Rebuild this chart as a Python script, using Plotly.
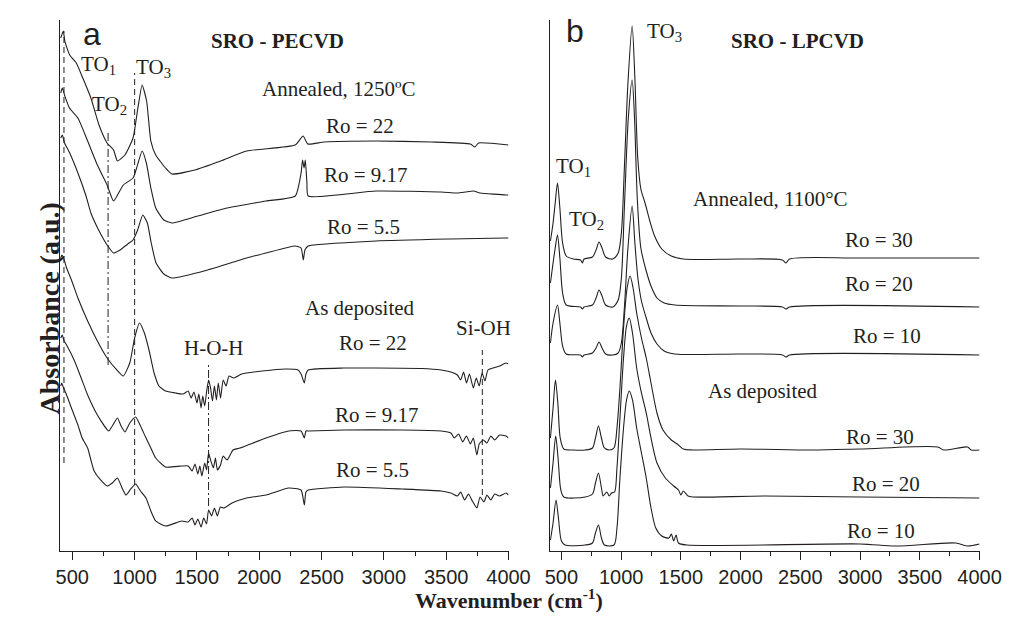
import plotly.graph_objects as go

# ---------------- Panel a : SRO - PECVD ----------------
pe_ann22_wn = [408, 429, 441, 480, 533, 585, 650, 715, 780, 832, 863, 923, 988, 1027, 1061, 1097, 1131, 1170, 1249, 1300,
               1483, 1690, 1899, 2289, 2352, 2391, 2523, 2937, 3382, 3694, 3730, 3760, 4000]
pe_ann22_abs = [5.13, 5.20, 5.10, 4.96, 4.88, 4.73, 4.53, 4.26, 4.08, 4.01, 3.90, 3.96, 4.13, 4.43, 4.66, 4.50, 4.10, 3.96, 3.83, 3.77,
                3.81, 3.90, 4.00, 4.06, 4.15, 4.07, 4.09, 4.10, 4.09, 4.07, 4.04, 4.08, 4.06]

pe_ann917_wn = [408, 421, 441, 478, 546, 624, 702, 780, 832, 910, 988, 1017, 1061, 1095, 1131, 1170, 1235, 1300, 1508, 1743,
                2055, 2289, 2336, 2348, 2360, 2370, 2383, 2393, 2937, 3460, 3590, 3655, 3718, 3772, 3980, 4000]
pe_ann917_abs = [4.58, 4.63, 4.55, 4.43, 4.33, 4.10, 3.86, 3.66, 3.50, 3.66, 3.73, 3.83, 4.00, 3.88, 3.63, 3.43, 3.31, 3.28, 3.35, 3.43,
                 3.50, 3.55, 3.78, 3.91, 3.83, 3.91, 3.68, 3.55, 3.60, 3.59, 3.58, 3.59, 3.60, 3.58, 3.56, 3.56]

pe_ann55_wn = [408, 421, 439, 480, 546, 611, 650, 712, 780, 832, 884, 946, 988, 1025, 1066, 1103, 1134, 1173, 1235, 1300,
               1587, 1899, 2055, 2289, 2336, 2354, 2367, 2393, 2937, 3538, 3980, 4000]
pe_ann55_abs = [4.13, 4.16, 4.08, 3.98, 3.78, 3.55, 3.38, 3.21, 3.06, 2.98, 3.01, 3.07, 3.11, 3.21, 3.36, 3.28, 3.08, 2.88, 2.77, 2.73,
                2.81, 2.93, 2.98, 3.05, 3.03, 2.91, 3.01, 3.05, 3.10, 3.12, 3.13, 3.13]

pe_dep22_wn = [408, 418, 431, 455, 494, 546, 624, 702, 780, 858, 910, 962, 1001, 1040, 1079, 1118, 1157, 1196, 1249, 1327,
               1391, 1430, 1454, 1477, 1501, 1516, 1534, 1547, 1563, 1578, 1594, 1610, 1625, 1641, 1657, 1672, 1690, 1711,
               1735, 1758, 1795, 1860, 2024, 2211, 2312, 2336, 2362, 2375, 2393, 2679, 2937, 3304, 3460, 3538, 3590, 3616,
               3640, 3663, 3687, 3718, 3741, 3765, 3788, 3811, 3835, 3876, 3928, 3980, 4000]
pe_dep22_abs = [2.93, 2.96, 2.93, 2.83, 2.71, 2.53, 2.30, 2.10, 1.93, 1.81, 1.75, 1.88, 2.13, 2.28, 2.18, 2.00, 1.78, 1.65, 1.60, 1.58,
                1.57, 1.60, 1.53, 1.59, 1.48, 1.57, 1.43, 1.55, 1.45, 1.59, 1.71, 1.63, 1.50, 1.65, 1.51, 1.68, 1.53, 1.71,
                1.65, 1.75, 1.73, 1.77, 1.80, 1.82, 1.81, 1.77, 1.68, 1.77, 1.81, 1.83, 1.83, 1.825, 1.81, 1.79, 1.76, 1.71,
                1.79, 1.68, 1.77, 1.63, 1.73, 1.65, 1.78, 1.70, 1.81, 1.83, 1.85, 1.88, 1.87]

pe_dep917_wn = [408, 421, 435, 455, 519, 572, 624, 702, 793, 822, 863, 892, 923, 962, 1009, 1048, 1092, 1131, 1170, 1249,
                1378, 1430, 1462, 1485, 1508, 1524, 1540, 1563, 1578, 1594, 1610, 1633, 1649, 1665, 1690, 1711, 1743, 1790,
                1846, 2055, 2237, 2336, 2362, 2375, 2393, 2679, 3148, 3460, 3538, 3564, 3600, 3632, 3663, 3694, 3718, 3746,
                3765, 3798, 3827, 3858, 3889, 3928, 3980, 4000]
pe_dep917_abs = [2.13, 2.16, 2.10, 2.06, 1.90, 1.73, 1.56, 1.36, 1.20, 1.25, 1.33, 1.25, 1.19, 1.28, 1.34, 1.25, 1.13, 1.03, 0.93, 0.84,
                 0.85, 0.85, 0.80, 0.87, 0.77, 0.85, 0.75, 0.88, 0.81, 0.98, 0.91, 0.83, 0.93, 0.81, 0.86, 0.95, 0.91, 1.01,
                 1.03, 1.13, 1.20, 1.20, 1.13, 1.20, 1.20, 1.21, 1.21, 1.20, 1.18, 1.13, 1.17, 1.09, 1.15, 1.07, 1.13, 0.96,
                 1.07, 1.11, 1.08, 1.15, 1.11, 1.16, 1.15, 1.13]

pe_dep55_wn = [408, 416, 431, 455, 494, 546, 580, 624, 650, 676, 728, 780, 822, 863, 900, 931, 970, 1009, 1048, 1092,
               1131, 1170, 1249, 1378, 1430, 1462, 1485, 1508, 1534, 1555, 1578, 1594, 1618, 1641, 1665, 1688, 1717, 1782,
               1899, 2055, 2237, 2336, 2362, 2375, 2393, 2679, 3148, 3460, 3538, 3590, 3616, 3648, 3679, 3710, 3746, 3772,
               3803, 3827, 3858, 3889, 3928, 3980, 4000]
pe_dep55_abs = [1.65, 1.68, 1.63, 1.56, 1.43, 1.26, 1.13, 1.03, 0.91, 0.80, 0.71, 0.65, 0.68, 0.73, 0.63, 0.56, 0.62, 0.67, 0.60, 0.53,
                0.40, 0.30, 0.25, 0.30, 0.29, 0.33, 0.26, 0.32, 0.24, 0.33, 0.27, 0.41, 0.35, 0.43, 0.35, 0.44, 0.43, 0.48,
                0.53, 0.56, 0.63, 0.61, 0.46, 0.59, 0.61, 0.64, 0.62, 0.60, 0.58, 0.55, 0.59, 0.51, 0.57, 0.50, 0.43, 0.54,
                0.49, 0.56, 0.51, 0.57, 0.55, 0.58, 0.56]

# band markers in panel a
pe_band_wn = [434, 788, 1001, 1594, 3790]
pe_band_top = [5.20, 4.21, 4.78, 1.86, 2.01]
pe_band_bot = [0.88, 1.86, 0.56, 0.45, 0.56]
pe_band_dash = ["6px,4px", "8px,3px,2px,3px", "6px,4px", "8px,3px,2px,3px", "6px,4px"]

# ---------------- Panel b : SRO - LPCVD ----------------
lp_ann30_wn = [408, 430, 448, 467, 487, 510, 540, 600, 660, 675, 690, 760, 790, 815, 840, 870, 930, 975, 1002, 1027,
               1057, 1092, 1115, 1139, 1165, 1200, 1240, 1280, 1340, 1420, 1520, 2000, 2350, 2380, 2410, 3000, 4000]
lp_ann30_abs = [3.10, 3.28, 3.48, 3.68, 3.43, 3.08, 2.95, 2.92, 2.91, 2.88, 2.92, 2.94, 3.01, 3.09, 3.03, 2.94, 2.92, 2.98, 3.18, 3.83,
                4.68, 5.25, 4.73, 3.93, 3.62, 3.48, 3.30, 3.15, 3.02, 2.95, 2.92, 2.92, 2.91, 2.88, 2.92, 2.93, 2.93]

lp_ann20_wn = [408, 430, 448, 467, 487, 510, 540, 660, 675, 690, 760, 790, 815, 840, 870, 930, 975, 1002, 1027, 1060,
               1092, 1112, 1135, 1165, 1210, 1250, 1300, 1360, 1450, 2000, 2350, 2380, 2410, 4000]
lp_ann20_abs = [2.68, 2.88, 3.03, 3.16, 2.93, 2.58, 2.46, 2.44, 2.42, 2.44, 2.46, 2.53, 2.61, 2.55, 2.46, 2.44, 2.51, 2.73, 3.43, 4.33,
                4.71, 4.33, 3.53, 3.03, 2.80, 2.65, 2.53, 2.48, 2.46, 2.45, 2.44, 2.42, 2.44, 2.44]

lp_ann10_wn = [408, 430, 467, 487, 510, 540, 660, 675, 690, 760, 790, 815, 840, 870, 930, 975, 1002, 1027, 1057, 1092,
               1115, 1140, 1170, 1210, 1250, 1300, 1360, 1450, 2000, 2350, 2380, 2410, 4000]
lp_ann10_abs = [2.08, 2.28, 2.46, 2.28, 2.05, 1.97, 1.96, 1.94, 1.96, 1.98, 2.03, 2.09, 2.03, 1.97, 1.96, 1.98, 2.08, 2.43, 3.03, 3.45,
                3.08, 2.73, 2.50, 2.33, 2.18, 2.07, 2.00, 1.97, 1.97, 1.96, 1.94, 1.96, 1.96]

lp_dep30_wn = [408, 430, 450, 470, 490, 520, 600, 700, 760, 785, 810, 835, 860, 900, 940, 965, 990, 1020, 1050, 1075,
               1100, 1130, 1170, 1210, 1250, 1300, 1350, 1420, 1470, 1520, 1600, 2000, 2600, 3000, 3650, 3700, 3900, 3930, 4000]
lp_dep30_abs = [1.13, 1.43, 1.71, 1.48, 1.13, 1.02, 1.01, 1.01, 1.03, 1.13, 1.25, 1.13, 1.03, 1.01, 1.03, 1.23, 1.63, 2.23, 2.63, 2.75,
                2.63, 2.38, 2.13, 1.93, 1.68, 1.38, 1.21, 1.11, 1.07, 1.02, 1.01, 1.02, 1.01, 1.02, 1.04, 1.01, 1.04, 1.01, 1.01]

lp_dep20_wn = [408, 430, 452, 472, 495, 520, 700, 760, 785, 810, 835, 850, 880, 900, 920, 945, 965, 990, 1020, 1045,
               1068, 1095, 1130, 1170, 1210, 1250, 1300, 1370, 1440, 1480, 1500, 1520, 1560, 1600, 2200, 3000, 4000]
lp_dep20_abs = [0.63, 0.88, 1.15, 0.93, 0.61, 0.54, 0.54, 0.57, 0.68, 0.78, 0.63, 0.55, 0.59, 0.55, 0.58, 0.59, 0.83, 1.33, 1.93, 2.25,
                2.33, 2.18, 1.83, 1.58, 1.38, 1.13, 0.88, 0.73, 0.65, 0.61, 0.56, 0.60, 0.55, 0.54, 0.55, 0.54, 0.53]

lp_dep10_wn = [408, 430, 455, 475, 500, 530, 700, 760, 785, 810, 835, 860, 940, 965, 990, 1020, 1045, 1068, 1095, 1130,
               1170, 1210, 1250, 1290, 1340, 1400, 1420, 1440, 1460, 1480, 1550, 3000, 3300, 3800, 3900, 4000]
lp_dep10_abs = [0.11, 0.28, 0.51, 0.33, 0.10, 0.06, 0.06, 0.08, 0.18, 0.26, 0.13, 0.06, 0.06, 0.23, 0.73, 1.23, 1.51, 1.60, 1.51, 1.23,
                0.98, 0.73, 0.43, 0.23, 0.15, 0.13, 0.17, 0.10, 0.16, 0.08, 0.06, 0.07, 0.05, 0.08, 0.05, 0.07]

INK = "#231f20"
SERIF = "Liberation Serif, Times New Roman, serif"
SANS = "Liberation Sans, Arial, sans-serif"

fig = go.Figure()

panel_a = [(pe_ann22_wn, pe_ann22_abs), (pe_ann917_wn, pe_ann917_abs), (pe_ann55_wn, pe_ann55_abs),
           (pe_dep22_wn, pe_dep22_abs), (pe_dep917_wn, pe_dep917_abs), (pe_dep55_wn, pe_dep55_abs)]
panel_b = [(lp_ann30_wn, lp_ann30_abs), (lp_ann20_wn, lp_ann20_abs), (lp_ann10_wn, lp_ann10_abs),
           (lp_dep30_wn, lp_dep30_abs), (lp_dep20_wn, lp_dep20_abs), (lp_dep10_wn, lp_dep10_abs)]

for wn, ab in panel_a:
    fig.add_trace(go.Scatter(x=wn, y=ab, mode="lines", xaxis="x", yaxis="y",
                             line=dict(color=INK, width=1.1, shape="spline", smoothing=0.5),
                             hoverinfo="skip", showlegend=False))
for wn, ab in panel_b:
    fig.add_trace(go.Scatter(x=wn, y=ab, mode="lines", xaxis="x2", yaxis="y2",
                             line=dict(color=INK, width=1.1, shape="spline", smoothing=0.8),
                             hoverinfo="skip", showlegend=False))

for wn, top, bot, dash in zip(pe_band_wn, pe_band_top, pe_band_bot, pe_band_dash):
    fig.add_trace(go.Scatter(x=[wn, wn], y=[bot, top], mode="lines", xaxis="x", yaxis="y",
                             line=dict(color=INK, width=1, dash=dash),
                             hoverinfo="skip", showlegend=False))


def note(text, x, y, ref="", size=21, bold=False, font=SERIF):
    if bold:
        text = f"<b>{text}</b>"
    fig.add_annotation(text=text, x=x, y=y, xref="x" + ref, yref="y" + ref,
                       showarrow=False, font=dict(family=font, size=size, color=INK))


# panel a labels
note("a", 658, 5.17, size=32, font=SANS)
note("SRO - PECVD", 2149, 5.10, size=21, bold=True)
note("TO<sub>1</sub>", 712, 4.86)
note("TO<sub>2</sub>", 800, 4.46)
note("TO<sub>3</sub>", 1155, 4.83)
note("Annealed, 1250ºC", 2633, 4.62)
note("Ro = 22", 2812, 4.25)
note("Ro = 9.17", 2859, 3.76)
note("Ro = 5.5", 2835, 3.24)
note("As deposited", 2812, 2.43)
note("Ro = 22", 2913, 2.08)
note("H-O-H", 1633, 2.03)
note("Si-OH", 3796, 2.23)
note("Ro = 9.17", 2945, 1.36)
note("Ro = 5.5", 2906, 0.81)

# panel b labels
note("b", 611, 5.20, ref="2", size=32, font=SANS)
note("TO<sub>3</sub>", 1361, 5.19, ref="2")
note("SRO - LPCVD", 2478, 5.10, ref="2", size=21, bold=True)
note("TO<sub>1</sub>", 603, 3.84, ref="2")
note("TO<sub>2</sub>", 709, 3.31, ref="2")
note("Annealed, 1100°C", 2250, 3.52, ref="2")
note("Ro = 30", 3161, 3.11, ref="2")
note("Ro = 20", 3161, 2.67, ref="2")
note("Ro = 10", 3226, 2.15, ref="2")
note("As deposited", 2184, 1.60, ref="2")
note("Ro = 30", 3169, 1.14, ref="2")
note("Ro = 20", 3218, 0.67, ref="2")
note("Ro = 10", 3177, 0.20, ref="2")

fig.add_annotation(text="<b>Absorbance (a.u.)</b>", x=0.019, y=0.515, xref="paper", yref="paper",
                   textangle=-90, showarrow=False, font=dict(family=SERIF, size=28, color=INK))
fig.add_annotation(text="<b>Wavenumber (cm<sup>-1</sup>)</b>", x=0.5, y=0.046, yanchor="middle",
                   xref="paper", yref="paper",
                   showarrow=False, font=dict(family=SERIF, size=22, color=INK))

xcommon = dict(dtick=500, tick0=0, ticks="outside", ticklen=8, tickwidth=1, tickcolor=INK,
               showline=True, linecolor=INK, linewidth=1.2, showgrid=False, zeroline=False,
               tickfont=dict(family=SANS, size=20, color=INK),
               minor=dict(ticks="outside", ticklen=4, dtick=250, tick0=0, tickcolor=INK, showgrid=False))
ycommon = dict(range=[0, 5.31], showline=True, linecolor=INK, linewidth=1.2, showticklabels=False,
               ticks="", showgrid=False, zeroline=False, domain=[0.1228, 0.9806])

fig.update_layout(
    width=1019, height=619,
    margin=dict(l=0, r=0, t=0, b=0),
    paper_bgcolor="white", plot_bgcolor="white",
    xaxis=dict(xcommon, range=[400, 4000], domain=[0.0471, 0.4995], anchor="y"),
    yaxis=dict(ycommon, anchor="x"),
    xaxis2=dict(xcommon, range=[405, 4000], domain=[0.5414, 0.9743], anchor="y2"),
    yaxis2=dict(ycommon, anchor="x2"),
)

fig.write_html("out.html")
